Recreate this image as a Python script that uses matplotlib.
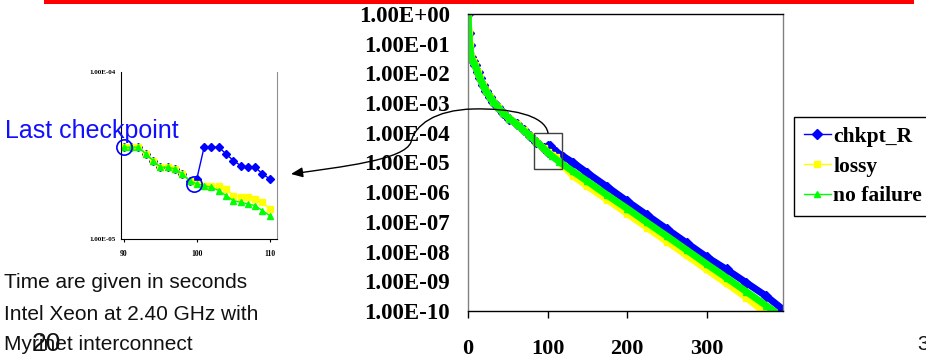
import numpy as np
import matplotlib
matplotlib.use("Agg")
import matplotlib.pyplot as plt
from matplotlib.path import Path
from matplotlib.patches import FancyArrowPatch, Rectangle
from matplotlib.lines import Line2D
from matplotlib.ticker import FixedLocator, FixedFormatter, NullLocator

W, H = 926, 358

# ---------------- data ----------------
series_names = ["chkpt_R", "lossy", "no failure"]
series_colors = ["#0000FF", "#FFFF00", "#00FF00"]
series_markers = ["D", "s", "^"]

# common part of the run (before the failure), seconds / log10(residual)
t_common = [0, 1, 2, 4, 6, 9, 12, 15, 19, 23, 28, 32, 38, 44, 52, 61, 70, 78, 86, 95, 100]
log_common = [0, -0.64, -1.04, -1.45, -1.58, -1.72, -1.95, -2.15, -2.4, -2.6, -2.8,
              -2.96, -3.14, -3.33, -3.52, -3.7, -3.92, -4.1, -4.3, -4.52, -4.65]

t_chkpt = [101, 103, 110, 120, 132, 150, 175, 200, 225, 250, 275, 300, 325, 350, 375, 396]
log_chkpt = [-4.45, -4.45, -4.64, -4.8, -5.0, -5.35, -5.82, -6.3, -6.77, -7.24, -7.71,
             -8.18, -8.6, -9.05, -9.5, -9.95]

t_lossy = [105, 110, 120, 132, 150, 175, 200, 225, 250, 275, 300, 325, 350, 371]
log_lossy = [-4.74, -4.82, -5.12, -5.45, -5.8, -6.25, -6.72, -7.19, -7.66, -8.13, -8.6,
             -9.07, -9.55, -10.0]

t_nofail = [105, 115, 132, 150, 175, 200, 225, 250, 275, 300, 325, 350, 375, 386]
log_nofail = [-4.77, -4.98, -5.3, -5.63, -6.1, -6.55, -7.02, -7.48, -7.95, -8.42, -8.88,
              -9.35, -9.82, -10.03]

# zoomed window 90..110 s
t_zoom = list(range(90, 111))
zoom_nofail_log = [-4.45, -4.45, -4.45, -4.49, -4.53, -4.57, -4.57, -4.58, -4.61, -4.65,
                   -4.67, -4.68, -4.69, -4.71, -4.74, -4.77, -4.78, -4.79, -4.80, -4.83, -4.86]
zoom_lossy_log = [-4.45, -4.45, -4.45, -4.49, -4.53, -4.57, -4.57, -4.58, -4.61, -4.65,
                  -4.67, -4.68, -4.68, -4.68, -4.70, -4.74, -4.75, -4.75, -4.76, -4.78, -4.82]
zoom_chkpt_log = [-4.45, -4.45, -4.45, -4.49, -4.53, -4.57, -4.57, -4.58, -4.61, -4.65,
                  -4.64, -4.45, -4.45, -4.45, -4.49, -4.53, -4.56, -4.57, -4.57, -4.61, -4.64]

x_ticks = [0, 100, 200, 300]
y_ticks = [1e0, 1e-1, 1e-2, 1e-3, 1e-4, 1e-5, 1e-6, 1e-7, 1e-8, 1e-9, 1e-10]
y_tick_labels = ["1.00E+00", "1.00E-01", "1.00E-02", "1.00E-03", "1.00E-04", "1.00E-05",
                 "1.00E-06", "1.00E-07", "1.00E-08", "1.00E-09", "1.00E-10"]
zoom_x_ticks = [90, 100, 110]
zoom_y_ticks = [1e-4, 1e-5]
zoom_y_tick_labels = ["1.00E-04", "1.00E-05"]

notes = ["Time are given in seconds", "Intel Xeon at 2.40 GHz with", "Myrinet interconnect"]

# --------------- figure ----------------
fig = plt.figure(figsize=(W / 100, H / 100), dpi=100)
fig.patch.set_facecolor("white")


def fx(px):
    return px / W


def fy(py):
    return 1 - py / H


SERIF = "Liberation Serif"
SANS = "Liberation Sans"

# red bar at top
fig.patches.append(Rectangle((fx(44), fy(4)), fx(914) - fx(44), fy(0) - fy(4),
                             transform=fig.transFigure, facecolor="#FF0000",
                             edgecolor="none"))

# ---------- main axes ----------
ax = fig.add_axes([fx(468), fy(311), fx(783) - fx(468), fy(14) - fy(311)])
ax.set_yscale("log")

t_full = {
    "chkpt_R": t_common + t_chkpt,
    "lossy": t_common + t_lossy,
    "no failure": t_common + t_nofail,
}
log_full = {
    "chkpt_R": log_common + log_chkpt,
    "lossy": log_common + log_lossy,
    "no failure": log_common + log_nofail,
}
for name, col, mk in zip(series_names, series_colors, series_markers):
    vals = np.power(10.0, np.array(log_full[name]))
    ax.plot(t_full[name], vals, color=col, lw=5, marker=mk, ms=5,
            markeredgecolor=col, solid_capstyle="round", solid_joinstyle="round")

ax.set_xlim(0, 396)
ax.set_ylim(1e-10, 1.0)
ax.xaxis.set_major_locator(FixedLocator(x_ticks))
ax.yaxis.set_major_locator(FixedLocator(y_ticks))
ax.yaxis.set_major_formatter(FixedFormatter(y_tick_labels))
ax.yaxis.set_minor_locator(NullLocator())
ax.tick_params(axis="y", length=0, pad=13, labelsize=16.5)
ax.tick_params(axis="x", length=5, width=1, direction="out", pad=15, labelsize=16,
               color="black")
for lab in ax.get_xticklabels() + ax.get_yticklabels():
    lab.set_fontfamily(SERIF)
    lab.set_fontweight("bold")
ax.spines["left"].set_color("#808080")
ax.spines["right"].set_color("#808080")
ax.spines["top"].set_color("black")
ax.spines["bottom"].set_color("black")
for s in ax.spines.values():
    s.set_linewidth(1)

# ---------- inset ----------
axi = fig.add_axes([fx(121), fy(239), fx(277) - fx(121), fy(72) - fy(239)])
axi.set_yscale("log")
zoom_logs = [zoom_chkpt_log, zoom_lossy_log, zoom_nofail_log]
for vals_log, col, mk in zip(zoom_logs, series_colors, series_markers):
    axi.plot(t_zoom, np.power(10.0, np.array(vals_log)), color=col, lw=1,
             marker=mk, ms=4, markeredgecolor=col)
axi.set_xlim(89.6, 111.0)
axi.set_ylim(1e-5, 1e-4)
axi.xaxis.set_major_locator(FixedLocator(zoom_x_ticks))
axi.yaxis.set_major_locator(FixedLocator(zoom_y_ticks))
axi.yaxis.set_major_formatter(FixedFormatter(zoom_y_tick_labels))
axi.yaxis.set_minor_locator(NullLocator())
axi.tick_params(axis="y", length=0, pad=4, labelsize=5)
axi.tick_params(axis="x", length=2, pad=6, labelsize=5.5)
for lab in axi.get_xticklabels() + axi.get_yticklabels():
    lab.set_fontfamily(SERIF)
    lab.set_fontweight("bold")
axi.spines["top"].set_visible(False)
axi.spines["right"].set_color("#909090")
axi.spines["left"].set_color("black")
axi.spines["bottom"].set_color("black")

# circles at last checkpoint and failure time
axi.plot([t_zoom[0]], [10 ** zoom_nofail_log[0]], "o", mfc="none", mec="#0000FF",
         ms=11, mew=1.2, clip_on=False, zorder=5)
axi.plot([t_zoom[10] - 0.4], [10 ** zoom_nofail_log[10]], "o", mfc="none", mec="#0000FF",
         ms=11, mew=1.2, clip_on=False, zorder=5)

fig.text(fx(5), fy(131), "Last checkpoint", color="#1010FF", fontsize=18,
         family=SANS, ha="left", va="center")

# ---------- zoom rectangle and connector ----------
fig.patches.append(Rectangle((fx(534), fy(169)), fx(562) - fx(534), fy(133) - fy(169),
                             transform=fig.transFigure, facecolor="none",
                             edgecolor="#404040", lw=1, zorder=6))
pts = [(548, 133), (545, 115), (510, 108), (473, 109),
       (435, 110), (415, 125), (411, 142),
       (405, 160), (340, 167), (291, 174)]
codes = [Path.MOVETO] + [Path.CURVE4] * 9
path = Path([(fx(x), fy(y)) for x, y in pts], codes)
arrow = FancyArrowPatch(path=path, transform=fig.transFigure,
                        arrowstyle="-|>,head_length=0.7,head_width=0.3",
                        mutation_scale=10, color="black", lw=1, zorder=6)
fig.patches.append(arrow)

# ---------- legend ----------
handles = [Line2D([0], [0], color=c, lw=1, marker=m, ms=5, markeredgecolor=c)
           for c, m in zip(series_colors, series_markers)]
leg = fig.legend(handles, series_names, loc="upper left",
                 bbox_to_anchor=(fx(794), fy(117)), bbox_transform=fig.transFigure,
                 frameon=True, fancybox=False, edgecolor="black", borderaxespad=0,
                 prop={"family": SERIF, "weight": "bold", "size": 15.5},
                 handlelength=1.25, handletextpad=0.12, labelspacing=0.45, borderpad=0.45)
leg.get_frame().set_linewidth(1.0)
leg.get_frame().set_alpha(1)

# ---------- notes ----------
for i, line in enumerate(notes):
    fig.text(fx(4), fy(283 + 31 * i), line, fontsize=15, family=SANS,
             ha="left", va="center", color="#111111")
fig.text(fx(32), fy(344), "20", fontsize=19, family=SANS, ha="left", va="center",
         color="#111111")
fig.text(fx(917), fy(345), "3", fontsize=15, family=SANS, ha="left", va="center",
         color="#111111")

fig.savefig("out.png", dpi=100)
